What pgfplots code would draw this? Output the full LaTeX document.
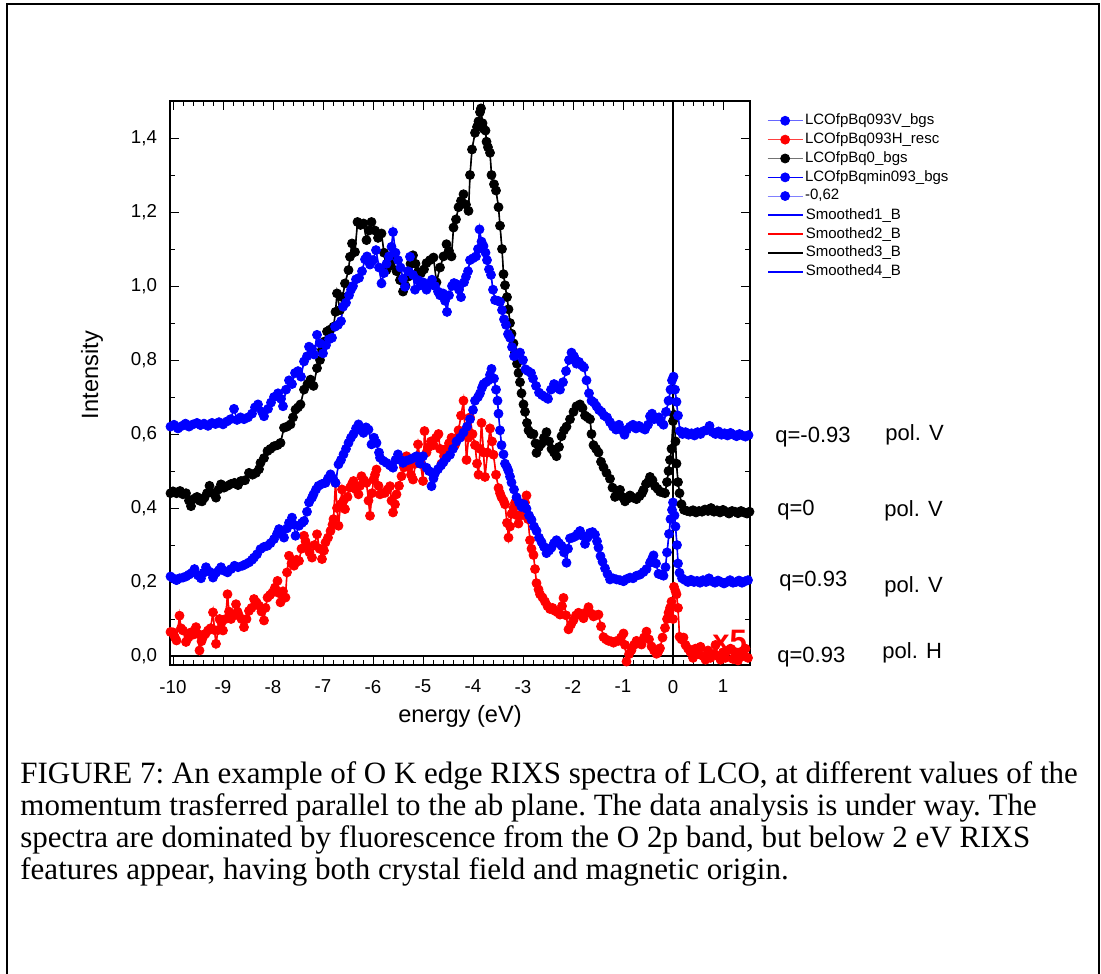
\documentclass[border=0pt]{standalone}
\usepackage{fontspec}
\setmainfont{Liberation Sans}
\newfontfamily\capfont{Liberation Serif}
\usepackage{pgfplots}
\usepackage{pgfplotstable}
\pgfplotsset{compat=1.18}

% q=-0.93, pol. V (top blue)
\pgfplotstableread{
x y
-10.05 0.62
-9.98 0.625
-9.9 0.615
-9.82 0.622
-9.75 0.628
-9.68 0.62
-9.6 0.626
-9.52 0.63
-9.45 0.624
-9.38 0.628
-9.3 0.622
-9.22 0.63
-9.15 0.627
-9.08 0.632
-9.0 0.626
-8.92 0.634
-8.85 0.64
-8.78 0.668
-8.72 0.638
-8.65 0.645
-8.58 0.64
-8.5 0.645
-8.42 0.655
-8.36 0.672
-8.3 0.68
-8.22 0.66
-8.18 0.648
-8.1 0.668
-8.04 0.685
-7.98 0.70
-7.9 0.71
-7.84 0.695
-7.8 0.675
-7.74 0.72
-7.68 0.745
-7.62 0.735
-7.56 0.765
-7.5 0.77
-7.44 0.755
-7.38 0.796
-7.32 0.81
-7.28 0.836
-7.22 0.83
-7.18 0.815
-7.12 0.868
-7.06 0.845
-7.0 0.818
-6.94 0.84
-6.88 0.856
-6.82 0.86
-6.76 0.89
-6.7 0.895
-6.64 0.905
-6.6 0.944
-6.54 0.955
-6.48 0.975
-6.44 0.99
-6.4 1.0
-6.34 1.018
-6.28 1.022
-6.22 1.04
-6.16 1.072
-6.12 1.08
-6.06 1.058
-6.0 1.07
-5.94 1.097
-5.88 1.05
-5.83 1.007
-5.78 1.035
-5.73 1.06
-5.68 1.08
-5.63 1.106
-5.6 1.146
-5.55 1.09
-5.5 1.07
-5.45 1.05
-5.4 1.02
-5.36 0.998
-5.3 1.04
-5.26 1.079
-5.2 1.03
-5.16 0.99
-5.1 1.016
-5.05 1.002
-5.0 1.01
-4.93 0.99
-4.87 1.005
-4.82 1.017
-4.76 1.0
-4.7 0.985
-4.66 0.975
-4.6 0.98
-4.56 0.96
-4.52 0.93
-4.48 0.975
-4.42 1.0
-4.38 1.008
-4.33 1.005
-4.28 0.99
-4.24 0.97
-4.18 1.01
-4.14 1.025
-4.1 1.04
-4.06 1.07
-4.0 1.075
-3.94 1.08
-3.9 1.1
-3.87 1.153
-3.83 1.12
-3.79 1.108
-3.75 1.09
-3.72 1.07
-3.68 1.045
-3.64 1.03
-3.6 0.99
-3.56 0.962
-3.5 0.96
-3.46 0.957
-3.42 0.935
-3.38 0.91
-3.34 0.895
-3.3 0.87
-3.26 0.86
-3.22 0.835
-3.18 0.81
-3.12 0.815
-3.06 0.82
-3.0 0.80
-2.95 0.775
-2.9 0.77
-2.84 0.765
-2.8 0.75
-2.74 0.73
-2.68 0.712
-2.62 0.705
-2.56 0.7
-2.5 0.695
-2.44 0.72
-2.38 0.735
-2.32 0.725
-2.26 0.72
-2.2 0.74
-2.14 0.77
-2.08 0.8
-2.03 0.82
-1.98 0.81
-1.93 0.79
-1.88 0.795
-1.82 0.785
-1.78 0.78
-1.73 0.745
-1.68 0.71
-1.63 0.69
-1.58 0.685
-1.53 0.675
-1.48 0.665
-1.43 0.66
-1.38 0.65
-1.32 0.645
-1.26 0.632
-1.2 0.62
-1.14 0.612
-1.08 0.625
-1.02 0.61
-0.97 0.598
-0.92 0.612
-0.86 0.62
-0.8 0.625
-0.74 0.615
-0.68 0.622
-0.62 0.616
-0.56 0.612
-0.5 0.625
-0.46 0.648
-0.42 0.655
-0.38 0.64
-0.33 0.642
-0.28 0.645
-0.24 0.632
-0.19 0.625
-0.14 0.66
-0.09 0.69
-0.05 0.72
-0.02 0.745
0.01 0.755
0.04 0.72
0.07 0.687
0.1 0.65
0.14 0.608
0.19 0.6
0.25 0.605
0.31 0.598
0.37 0.602
0.43 0.596
0.49 0.605
0.55 0.6
0.61 0.608
0.67 0.61
0.73 0.622
0.79 0.605
0.85 0.6
0.91 0.607
0.97 0.598
1.03 0.602
1.09 0.596
1.15 0.603
1.21 0.598
1.27 0.594
1.33 0.6
1.39 0.596
1.45 0.593
1.51 0.597
}\tb

% q=0, pol. V (black)
\pgfplotstableread{
x y
-10.05 0.44
-10.0 0.445
-9.93 0.44
-9.86 0.446
-9.8 0.437
-9.74 0.44
-9.68 0.42
-9.64 0.405
-9.58 0.425
-9.52 0.43
-9.47 0.42
-9.42 0.418
-9.37 0.428
-9.32 0.44
-9.27 0.46
-9.2 0.44
-9.14 0.428
-9.09 0.45
-9.04 0.464
-8.98 0.455
-8.91 0.46
-8.84 0.465
-8.77 0.468
-8.7 0.462
-8.64 0.473
-8.56 0.475
-8.48 0.495
-8.41 0.49
-8.34 0.495
-8.28 0.505
-8.25 0.522
-8.18 0.535
-8.11 0.554
-8.05 0.56
-7.98 0.567
-7.91 0.57
-7.85 0.576
-7.78 0.617
-7.72 0.62
-7.65 0.626
-7.6 0.645
-7.55 0.666
-7.5 0.672
-7.45 0.68
-7.38 0.72
-7.31 0.735
-7.25 0.747
-7.19 0.73
-7.12 0.778
-7.06 0.8
-7.02 0.828
-6.97 0.85
-6.92 0.877
-6.86 0.882
-6.79 0.89
-6.75 0.93
-6.72 0.98
-6.66 0.935
-6.61 0.97
-6.56 1.007
-6.49 1.043
-6.46 1.079
-6.42 1.115
-6.36 1.092
-6.31 1.173
-6.25 1.165
-6.19 1.169
-6.13 1.124
-6.08 1.15
-6.03 1.173
-5.96 1.15
-5.9 1.13
-5.83 1.142
-5.78 1.09
-5.73 1.043
-5.66 1.055
-5.6 1.07
-5.53 1.04
-5.46 1.016
-5.4 0.985
-5.35 1.0
-5.3 1.025
-5.25 1.06
-5.2 1.083
-5.15 1.06
-5.1 1.038
-5.04 1.035
-4.98 1.045
-4.93 1.062
-4.86 1.07
-4.79 1.077
-4.73 1.01
-4.66 1.05
-4.59 1.08
-4.53 1.113
-4.48 1.095
-4.43 1.08
-4.39 1.158
-4.34 1.18
-4.29 1.213
-4.24 1.23
-4.19 1.248
-4.14 1.22
-4.09 1.203
-4.06 1.3
-4.02 1.369
-3.96 1.414
-3.92 1.43
-3.89 1.445
-3.86 1.47
-3.84 1.48
-3.81 1.44
-3.79 1.425
-3.75 1.42
-3.73 1.39
-3.7 1.375
-3.66 1.36
-3.63 1.3
-3.58 1.275
-3.54 1.258
-3.49 1.213
-3.46 1.163
-3.42 1.1
-3.39 1.032
-3.36 1.002
-3.32 0.97
-3.29 0.937
-3.26 0.9
-3.23 0.871
-3.19 0.845
-3.16 0.82
-3.12 0.79
-3.09 0.765
-3.06 0.74
-3.03 0.71
-2.99 0.68
-2.96 0.66
-2.92 0.63
-2.89 0.61
-2.84 0.6
-2.79 0.6
-2.75 0.575
-2.73 0.549
-2.68 0.565
-2.63 0.574
-2.58 0.59
-2.53 0.605
-2.48 0.58
-2.43 0.56
-2.38 0.55
-2.33 0.54
-2.28 0.565
-2.23 0.594
-2.18 0.61
-2.13 0.62
-2.06 0.64
-1.99 0.66
-1.93 0.675
-1.86 0.68
-1.81 0.67
-1.76 0.65
-1.71 0.645
-1.66 0.64
-1.63 0.6
-1.59 0.57
-1.54 0.56
-1.49 0.55
-1.44 0.525
-1.39 0.51
-1.33 0.495
-1.26 0.479
-1.21 0.455
-1.16 0.43
-1.11 0.44
-1.06 0.449
-1.01 0.43
-0.96 0.418
-0.91 0.425
-0.86 0.434
-0.8 0.428
-0.73 0.424
-0.67 0.432
-0.62 0.44
-0.59 0.449
-0.54 0.465
-0.5 0.47
-0.46 0.484
-0.41 0.475
-0.36 0.459
-0.31 0.452
-0.26 0.444
-0.21 0.442
-0.16 0.44
-0.12 0.47
-0.09 0.5
-0.06 0.53
-0.03 0.56
0.0 0.635
0.02 0.652
0.05 0.58
0.07 0.52
0.1 0.47
0.13 0.44
0.17 0.41
0.22 0.395
0.28 0.392
0.34 0.39
0.4 0.394
0.46 0.388
0.52 0.392
0.58 0.39
0.64 0.396
0.7 0.392
0.76 0.4
0.82 0.39
0.88 0.394
0.94 0.388
1.0 0.395
1.06 0.39
1.12 0.385
1.18 0.392
1.24 0.39
1.3 0.386
1.36 0.392
1.42 0.388
1.48 0.385
1.53 0.39
}\bk

% q=0.93, pol. V (lower blue)
\pgfplotstableread{
x y
-10.05 0.215
-10.0 0.21
-9.93 0.205
-9.87 0.21
-9.8 0.212
-9.74 0.215
-9.68 0.22
-9.62 0.225
-9.57 0.235
-9.5 0.218
-9.44 0.21
-9.39 0.225
-9.34 0.24
-9.27 0.228
-9.2 0.212
-9.14 0.225
-9.08 0.232
-9.04 0.24
-8.97 0.23
-8.91 0.226
-8.84 0.235
-8.77 0.244
-8.7 0.24
-8.61 0.244
-8.55 0.248
-8.48 0.253
-8.42 0.26
-8.38 0.266
-8.32 0.275
-8.25 0.289
-8.18 0.295
-8.11 0.298
-8.05 0.305
-7.98 0.316
-7.92 0.33
-7.88 0.343
-7.82 0.335
-7.78 0.32
-7.72 0.345
-7.68 0.36
-7.62 0.374
-7.58 0.355
-7.55 0.325
-7.48 0.352
-7.42 0.36
-7.38 0.365
-7.32 0.39
-7.28 0.415
-7.22 0.428
-7.19 0.437
-7.14 0.45
-7.09 0.46
-7.02 0.465
-6.95 0.468
-6.9 0.48
-6.85 0.491
-6.8 0.48
-6.75 0.468
-6.69 0.518
-6.64 0.53
-6.59 0.545
-6.54 0.56
-6.49 0.576
-6.44 0.59
-6.39 0.6
-6.34 0.615
-6.29 0.626
-6.24 0.61
-6.19 0.603
-6.14 0.618
-6.09 0.612
-6.03 0.572
-5.98 0.59
-5.93 0.576
-5.88 0.55
-5.86 0.536
-5.8 0.528
-5.73 0.522
-5.66 0.515
-5.6 0.509
-5.55 0.53
-5.5 0.545
-5.45 0.53
-5.4 0.522
-5.33 0.528
-5.26 0.531
-5.2 0.535
-5.13 0.54
-5.06 0.52
-5.0 0.54
-4.93 0.509
-4.88 0.5
-4.83 0.459
-4.79 0.48
-4.76 0.494
-4.7 0.505
-4.64 0.515
-4.59 0.524
-4.53 0.535
-4.46 0.544
-4.4 0.56
-4.33 0.58
-4.26 0.59
-4.19 0.604
-4.12 0.62
-4.06 0.64
-4.0 0.665
-3.96 0.69
-3.9 0.7
-3.86 0.71
-3.82 0.725
-3.79 0.735
-3.74 0.74
-3.69 0.745
-3.66 0.76
-3.63 0.776
-3.58 0.75
-3.54 0.72
-3.51 0.69
-3.49 0.655
-3.46 0.61
-3.43 0.57
-3.39 0.545
-3.36 0.52
-3.32 0.51
-3.29 0.5
-3.26 0.485
-3.23 0.469
-3.18 0.45
-3.13 0.429
-3.08 0.415
-3.03 0.403
-2.98 0.41
-2.93 0.398
-2.88 0.38
-2.83 0.368
-2.78 0.35
-2.73 0.338
-2.68 0.32
-2.63 0.308
-2.58 0.295
-2.53 0.278
-2.48 0.285
-2.43 0.293
-2.38 0.305
-2.33 0.313
-2.28 0.305
-2.23 0.298
-2.18 0.28
-2.13 0.252
-2.1 0.29
-2.06 0.318
-2.01 0.32
-1.96 0.323
-1.91 0.33
-1.86 0.338
-1.81 0.325
-1.76 0.303
-1.71 0.32
-1.66 0.333
-1.61 0.335
-1.56 0.328
-1.52 0.31
-1.49 0.293
-1.45 0.27
-1.41 0.255
-1.36 0.237
-1.31 0.222
-1.26 0.207
-1.2 0.21
-1.13 0.207
-1.06 0.205
-0.99 0.202
-0.93 0.208
-0.86 0.212
-0.8 0.21
-0.73 0.217
-0.66 0.22
-0.59 0.227
-0.53 0.235
-0.46 0.252
-0.42 0.262
-0.39 0.272
-0.34 0.25
-0.29 0.222
-0.24 0.22
-0.19 0.217
-0.15 0.24
-0.12 0.28
-0.08 0.33
-0.05 0.37
-0.02 0.395
0.0 0.415
0.03 0.38
0.05 0.35
0.08 0.3
0.1 0.25
0.13 0.225
0.18 0.21
0.24 0.205
0.3 0.2
0.36 0.206
0.42 0.2
0.48 0.203
0.54 0.198
0.6 0.205
0.66 0.2
0.72 0.21
0.78 0.202
0.84 0.198
0.9 0.204
0.96 0.2
1.02 0.196
1.08 0.2
1.14 0.205
1.2 0.198
1.26 0.2
1.32 0.204
1.38 0.198
1.44 0.202
1.5 0.205
}\lb

% q=0.93, pol. H, x5 (red)
\pgfplotstableread{
x y
-10.05 0.065
-10.0 0.064
-9.96 0.05
-9.93 0.042
-9.87 0.109
-9.84 0.075
-9.8 0.069
-9.74 0.038
-9.69 0.05
-9.64 0.064
-9.59 0.058
-9.54 0.078
-9.5 0.06
-9.47 0.015
-9.43 0.04
-9.4 0.051
-9.35 0.06
-9.3 0.069
-9.25 0.075
-9.2 0.118
-9.17 0.07
-9.14 0.033
-9.1 0.07
-9.07 0.1
-9.03 0.09
-9.0 0.069
-8.95 0.1
-8.91 0.167
-8.88 0.12
-8.84 0.1
-8.79 0.11
-8.74 0.14
-8.71 0.12
-8.68 0.109
-8.63 0.1
-8.58 0.078
-8.53 0.1
-8.48 0.122
-8.43 0.13
-8.38 0.154
-8.33 0.145
-8.28 0.136
-8.23 0.12
-8.18 0.096
-8.15 0.13
-8.11 0.158
-8.06 0.165
-8.01 0.172
-7.96 0.185
-7.91 0.203
-7.88 0.17
-7.85 0.145
-7.8 0.175
-7.75 0.158
-7.72 0.226
-7.68 0.271
-7.63 0.25
-7.58 0.244
-7.53 0.26
-7.48 0.257
-7.43 0.29
-7.38 0.325
-7.35 0.31
-7.32 0.298
-7.27 0.28
-7.22 0.266
-7.17 0.3
-7.12 0.329
-7.07 0.29
-7.02 0.262
-6.98 0.285
-6.95 0.307
-6.9 0.32
-6.85 0.338
-6.81 0.355
-6.79 0.37
-6.75 0.468
-6.72 0.4
-6.69 0.352
-6.65 0.41
-6.62 0.45
-6.59 0.42
-6.56 0.397
-6.51 0.43
-6.46 0.455
-6.42 0.465
-6.39 0.473
-6.34 0.45
-6.29 0.437
-6.26 0.46
-6.23 0.486
-6.18 0.475
-6.13 0.468
-6.09 0.42
-6.06 0.379
-6.02 0.44
-5.99 0.477
-5.96 0.49
-5.93 0.504
-5.89 0.46
-5.86 0.437
-5.81 0.44
-5.76 0.441
-5.71 0.45
-5.66 0.459
-5.63 0.42
-5.6 0.388
-5.56 0.41
-5.53 0.437
-5.48 0.46
-5.43 0.486
-5.38 0.51
-5.33 0.54
-5.28 0.51
-5.24 0.49
-5.2 0.477
-5.15 0.52
-5.1 0.572
-5.05 0.52
-5.0 0.473
-4.97 0.608
-4.93 0.55
-4.89 0.564
-4.84 0.58
-4.79 0.57
-4.74 0.59
-4.69 0.6
-4.66 0.56
-4.63 0.52
-4.58 0.54
-4.53 0.56
-4.48 0.575
-4.43 0.59
-4.39 0.58
-4.36 0.57
-4.32 0.59
-4.29 0.61
-4.24 0.65
-4.19 0.69
-4.16 0.61
-4.13 0.53
-4.09 0.59
-4.06 0.645
-4.01 0.6
-3.96 0.57
-3.92 0.52
-3.89 0.49
-3.86 0.56
-3.83 0.63
-3.79 0.55
-3.76 0.484
-3.71 0.55
-3.66 0.615
-3.62 0.58
-3.59 0.544
-3.54 0.49
-3.49 0.454
-3.46 0.44
-3.43 0.429
-3.39 0.42
-3.36 0.41
-3.32 0.36
-3.29 0.32
-3.26 0.35
-3.23 0.384
-3.19 0.4
-3.16 0.414
-3.12 0.38
-3.09 0.358
-3.04 0.38
-2.99 0.398
-2.96 0.415
-2.93 0.434
-2.9 0.37
-2.86 0.313
-2.83 0.29
-2.79 0.273
-2.76 0.235
-2.73 0.197
-2.69 0.18
-2.66 0.167
-2.61 0.158
-2.56 0.147
-2.51 0.135
-2.46 0.127
-2.41 0.13
-2.36 0.122
-2.31 0.118
-2.26 0.112
-2.22 0.135
-2.19 0.157
-2.14 0.11
-2.09 0.072
-2.04 0.085
-1.99 0.097
-1.94 0.11
-1.89 0.117
-1.84 0.11
-1.79 0.102
-1.74 0.118
-1.69 0.132
-1.64 0.115
-1.59 0.107
-1.54 0.11
-1.49 0.112
-1.44 0.08
-1.39 0.051
-1.34 0.045
-1.29 0.041
-1.24 0.04
-1.19 0.036
-1.14 0.04
-1.09 0.041
-1.04 0.05
-0.99 0.061
-0.96 0.03
-0.93 -0.015
-0.88 0.005
-0.83 0.016
-0.78 0.03
-0.73 0.041
-0.68 0.036
-0.63 0.031
-0.58 0.05
-0.53 0.066
-0.48 0.045
-0.43 0.026
-0.38 0.015
-0.33 0.006
-0.3 0.01
-0.26 0.021
-0.21 0.05
-0.16 0.076
-0.12 0.1
-0.09 0.117
-0.06 0.13
-0.03 0.147
0.0 0.1
0.02 0.187
0.05 0.175
0.07 0.167
0.1 0.13
0.13 0.052
0.17 0.045
0.21 0.05
0.25 0.03
0.3 0.02
0.35 0.01
0.4 -0.005
0.45 0.02
0.5 0.005
0.55 0.025
0.6 0.0
0.65 -0.01
0.7 0.015
0.75 -0.005
0.8 0.005
0.85 0.03
0.9 0.0
0.95 -0.01
1.0 0.01
1.05 -0.005
1.1 0.015
1.15 0.02
1.2 -0.008
1.25 0.005
1.3 -0.012
1.35 0.01
1.4 0.0
1.45 0.02
1.5 -0.005
}\rd

\pgfplotsset{
  legstyle/.style={
    legend image code/.code={\draw[mark repeat=2,mark phase=2,##1] plot coordinates {(0pt,0pt) (8.75pt,0pt) (17.5pt,0pt)};},
    legend style={draw=none, fill=none, anchor=north west,
      font=\fontsize{7.5}{9}\selectfont, row sep=0.5pt, inner sep=0pt,
      nodes={inner sep=1pt}},
    legend cell align=left,
  },
  frame/.style={
    at={(85pt,-332.5pt)}, anchor=south west,
    width=290pt, height=282pt, scale only axis,
    xmin=-10.06, xmax=1.54, ymin=-0.0243, ymax=1.5,
    mark size=2.25pt,
  },
}

\begin{document}
\begin{tikzpicture}
\useasboundingbox (0,0) rectangle (550.5pt,-486.5pt);
\draw[line width=1pt] (3.25pt,-490pt) -- (3.25pt,-2.25pt) -- (549.5pt,-2.25pt) -- (549.5pt,-490pt);

\begin{axis}[
  frame, legstyle,
  xtick={-10,-9,-8,-7,-6,-5,-4,-3,-2,-1,0,1},
  minor x tick num=4,
  ytick={0,0.2,0.4,0.6,0.8,1.0,1.2,1.4},
  minor y tick num=1,
  tick align=inside,
  major tick length=4.5pt, minor tick length=2.5pt,
  every tick/.style={black, line width=0.5pt},
  axis line style={line width=0.7pt},
  /pgf/number format/assume math mode=true,
  ticklabel style={font=\fontsize{9.35}{11}\selectfont},
  y tick label style={/pgf/number format/use comma, /pgf/number format/fixed,
    /pgf/number format/fixed zerofill, /pgf/number format/precision=1, xshift=-3pt},
  x tick label style={yshift=-4pt},
  xlabel={energy (eV)},
  xlabel style={font=\fontsize{11.8}{14}\selectfont, at={(axis description cs:0.5,-0.0904)}, anchor=center},
  ylabel={Intensity},
  ylabel style={font=\fontsize{11.8}{14}\selectfont, at={(axis description cs:-0.1345,0.514)}, anchor=center},
  legend style={at={(axis description cs:1.029,0.9815)}},
]
\addlegendimage{blue!60, line width=0.4pt, mark=*, mark options={blue, solid}}
\addlegendentry{LCOfpBq093V\_bgs}
\addlegendimage{red!75, line width=0.4pt, mark=*, mark options={red, solid}}
\addlegendentry{LCOfpBq093H\_resc}
\addlegendimage{black!55, line width=0.4pt, mark=*, mark options={black, solid}}
\addlegendentry{LCOfpBq0\_bgs}
\addlegendimage{blue, line width=0.4pt, mark=*, mark options={blue, solid}}
\addlegendentry{LCOfpBqmin093\_bgs}
\addlegendimage{blue!50, line width=0.4pt, mark=*, mark options={blue, solid}}
\addlegendentry{-0,62}

\addplot[forget plot, black, line width=0.6pt] coordinates {(-10.06,0) (1.54,0)};
\addplot[forget plot, black, line width=0.6pt] coordinates {(0,-0.0243) (0,1.5)};

% measured spectra
\addplot[forget plot, red, line width=0.4pt, mark=*] table {\rd};
\addplot[forget plot, blue, line width=0.4pt, mark=*] table {\lb};
\addplot[forget plot, black, line width=0.4pt, mark=*] table {\bk};
\addplot[forget plot, blue, line width=0.4pt, mark=*] table {\tb};
% smoothed traces
\addplot[forget plot, red, line width=0.8pt] table {\rd};
\addplot[forget plot, black, line width=0.8pt] table {\bk};
\addplot[forget plot, blue, line width=0.8pt] table {\lb};
\addplot[forget plot, blue, line width=0.8pt] table {\tb};

\node[font=\bfseries\fontsize{15.5}{18}\selectfont, text=red, inner sep=0pt] at (axis cs:1.13,0.04) {x5};
\end{axis}

% second legend block (smoothed traces)
\begin{axis}[
  frame, legstyle, hide axis,
  legend style={at={(axis description cs:1.029,0.8139)}},
]
\addlegendimage{blue, line width=0.8pt}
\addlegendentry{Smoothed1\_B}
\addlegendimage{red, line width=0.8pt}
\addlegendentry{Smoothed2\_B}
\addlegendimage{black, line width=0.8pt}
\addlegendentry{Smoothed3\_B}
\addlegendimage{blue, line width=0.8pt}
\addlegendentry{Smoothed4\_B}
\end{axis}

\begin{scope}[font=\fontsize{11}{13}\selectfont]
\node[anchor=west, inner sep=0pt] at (387.5pt,-218.5pt) {q=-0.93};
\node[anchor=west, inner sep=0pt] at (442.5pt,-217.5pt) {pol. V};
\node[anchor=west, inner sep=0pt] at (388.5pt,-255pt) {q=0};
\node[anchor=west, inner sep=0pt] at (442pt,-255.5pt) {pol. V};
\node[anchor=west, inner sep=0pt] at (389.5pt,-290.5pt) {q=0.93};
\node[anchor=west, inner sep=0pt] at (442pt,-293.5pt) {pol. V};
\node[anchor=west, inner sep=0pt] at (388.5pt,-328.5pt) {q=0.93};
\node[anchor=west, inner sep=0pt] at (441pt,-326.5pt) {pol. H};
\end{scope}

\node[anchor=north west, inner sep=0pt, align=left, font=\capfont\fontsize{15.5}{16}\selectfont\frenchspacing] at (10pt,-380.5pt)
{FIGURE 7: An example of O K edge RIXS spectra of LCO, at different values of the\\
momentum trasferred parallel to the ab plane. The data analysis is under way. The\\
spectra are dominated by fluorescence from the O 2p band, but below 2 eV RIXS\\
features appear, having both crystal field and magnetic origin.};
\end{tikzpicture}
\end{document}
